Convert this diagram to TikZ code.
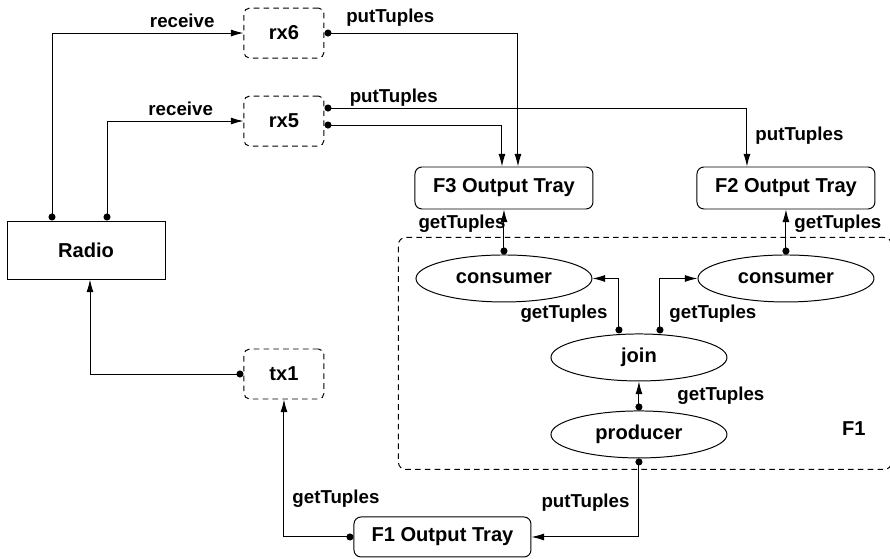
\documentclass[tikz,border=0pt]{standalone}
\usepackage{fontspec}
\setmainfont{Liberation Sans}
\usetikzlibrary{arrows.meta, positioning, shapes.geometric, calc, fit}

\begin{document}
\begin{tikzpicture}[
    node distance=1cm and 1cm,
    align=center,
    every node/.style={font=\fontsize{14.3}{16}\selectfont\bfseries},
    radiobox/.style={draw, line width=0.7pt, minimum width=3.95cm, minimum height=1.45cm},
    proc/.style={draw, line width=0.7pt, dash pattern=on 4pt off 3pt, rounded corners=4pt, minimum width=2cm, minimum height=1.25cm},
    tray/.style={draw, line width=0.7pt, rounded corners=5pt, minimum width=4.45cm, minimum height=1.05cm},
    task/.style={draw, ellipse, line width=0.7pt, inner sep=0pt, minimum width=4.4cm, minimum height=1.175cm},
    group/.style={draw, line width=0.7pt, dash pattern=on 4pt off 3pt, rounded corners=5pt, inner sep=0pt},
    lbl/.style={font=\fontsize{13.3}{16}\selectfont\bfseries, inner sep=0pt},
    link/.style={{Circle[length=5pt]}-{Latex[length=9pt,width=5pt]}, line width=0.7pt}
]
\useasboundingbox (-2.15,-7.725) rectangle (20.1,6.25);

% Nodes
\node (radio) [radiobox] {Radio};
\node (rx5) [proc, above right=1.85cm and 1.95cm of radio] {rx5};
\node (rx6) [proc, above=0.925cm of rx5] {rx6};
\node (tx1) [proc, below=5.05cm of rx5] {tx1};
\node (f3) [tray, below right=0.5cm and 2.25cm of rx5] {F3 Output Tray};
\node (f2) [tray, right=2.575cm of f3] {F2 Output Tray};
\node (cons1) [task, below=1.125cm of f3] {consumer};
\node (cons2) [task, below=1.125cm of f2] {consumer};
\coordinate (mid) at ($(cons1.south)!0.5!(cons2.south)$);
\node (join) [task, below=0.775cm of mid, xshift=-0.15cm] {join};
\node (producer) [task, below=0.725cm of join] {producer};
\node (f1tray) [tray, below right=2.925cm and 0.725cm of tx1, minimum width=4.425cm, minimum height=1cm] {F1 Output Tray};

% F1 group
\coordinate (tl) at ($(f3.south west)+(-0.4,-0.7)$);
\coordinate (br) at ($(f2.east|-producer.south)+(0.4,-0.275)$);
\node (f1) [group, fit=(tl)(br)] {};
\node (f1name) [above left=0.85cm and 0.65cm of f1.south east, inner sep=0pt] {F1};

% Edges
\draw [link] ([xshift=-0.85cm]radio.north) |- (rx6.west) node[lbl, pos=0.84, above=0.125cm] (rcv6) {receive};
\draw [link] ([xshift=0.525cm]radio.north) |- (rx5.west) node[lbl, pos=0.77, above=0.125cm] (rcv5) {receive};
\draw [link] (rx6.east) -| ([xshift=0.35cm]f3.north) node[lbl, pos=0.17, above=0.15cm] (put6) {putTuples};
\draw [link] ([yshift=0.325cm]rx5.east) -| ([xshift=-0.975cm]f2.north) node[lbl, pos=0.082, above=0.025cm] (put5a) {putTuples} node[lbl, pos=0.74, right=0.2cm] (put5b) {putTuples};
\draw [link] ([yshift=-0.1cm]rx5.east) -| ([xshift=-0.05cm]f3.north);

\draw [link] (cons1.north) -- (f3.south) node[lbl, pos=0.69, left=-0.05cm] (get3) {getTuples};
\draw [link] (cons2.north) -- (f2.south) node[lbl, pos=0.69, right=0.2cm] (get2) {getTuples};
\draw [link] ([xshift=-0.5cm]join.north) |- (cons1.east) node[lbl, pos=0.18, left=0.275cm] (getc1) {getTuples};
\draw [link] ([xshift=0.525cm]join.north) |- (cons2.west) node[lbl, pos=0.18, right=0.225cm] (getc2) {getTuples};
\draw [link] (producer.north) -- (join.south) node[lbl, midway, right=0.95cm] (getj) {getTuples};
\draw [link] (producer.south) |- (f1tray.east) node[lbl, pos=0.28, left=0.225cm] (put1) {putTuples};
\draw [link] (f1tray.west) -| (tx1.south) node[lbl, pos=0.64, right=0.2cm] (get1) {getTuples};
\draw [link] (tx1.west) -| ([xshift=0.1cm]radio.south);

\end{tikzpicture}
\end{document}
